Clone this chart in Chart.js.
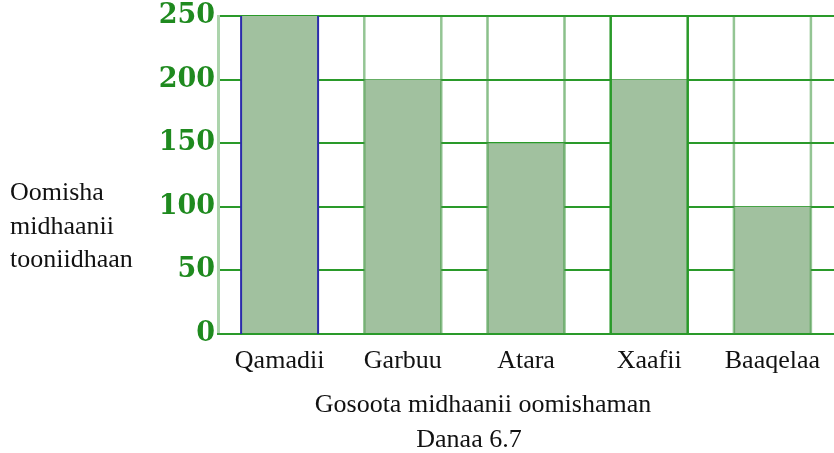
<!DOCTYPE html>
<html>
<head>
<meta charset="utf-8">
<script src="https://cdn.jsdelivr.net/npm/chart.js@4.4.1/dist/chart.umd.min.js"></script>
<style>
  html, body { margin: 0; padding: 0; background: #fff; }
  #wrap { width: 834px; height: 453px; position: relative; }
</style>
</head>
<body>
<div id="wrap"><canvas id="chart"></canvas></div>
<script>
const categories = ['Qamadii', 'Garbuu', 'Atara', 'Xaafii', 'Baaqelaa'];
const production = [250, 200, 150, 200, 100];
const yTicks = [0, 50, 100, 150, 200, 250];
const yTitle = ['Oomisha', 'midhaanii', 'tooniidhaan'];
const xTitle = 'Gosoota midhaanii oomishaman';
const caption = 'Danaa 6.7';

const green = '#2a9a2a';
const barFill = '#a1c19f';
// colour of the upright lines on each side of a bar
const edgeColors = ['#2b2bab', 'rgba(60,150,60,0.55)', 'rgba(60,150,60,0.6)', '#2a9a2a', 'rgba(60,150,60,0.55)'];

// full-height lines at both edges of every bar
const barEdges = {
    id: 'barEdges',
    afterDatasetsDraw(chart) {
        const ctx = chart.ctx;
        const area = chart.chartArea;
        const meta = chart.getDatasetMeta(0);
        ctx.save();
        meta.data.forEach((bar, i) => {
            const half = bar.width / 2;
            ctx.strokeStyle = edgeColors[i];
            ctx.lineWidth = i === 0 ? 2 : 2.5;
            [bar.x - half, bar.x + half].forEach(x => {
                ctx.beginPath();
                ctx.moveTo(x, area.top);
                ctx.lineTo(x, area.bottom);
                ctx.stroke();
            });
        });
        ctx.restore();
    }
};

// axis titles and caption
const titles = {
    id: 'titles',
    afterDraw(chart) {
        const ctx = chart.ctx;
        ctx.save();
        ctx.fillStyle = '#111';
        ctx.font = '26px "Liberation Serif", serif';
        ctx.textBaseline = 'alphabetic';
        ctx.textAlign = 'left';
        yTitle.forEach((line, i) => ctx.fillText(line, 10, 200 + i * 33.5));
        ctx.textAlign = 'center';
        ctx.fillText(xTitle, 483, 412);
        ctx.fillText(caption, 469, 447);
        ctx.restore();
    }
};

new Chart(document.getElementById('chart'), {
    type: 'bar',
    data: {
        labels: categories,
        datasets: [{
            data: production,
            backgroundColor: barFill,
            borderWidth: 0,
            barPercentage: 0.625,
            categoryPercentage: 1
        }]
    },
    options: {
        responsive: true,
        maintainAspectRatio: false,
        animation: false,
        layout: { padding: { top: 16, right: 0, bottom: 0, left: 0 } },
        plugins: {
            legend: { display: false },
            tooltip: { enabled: false }
        },
        scales: {
            x: {
                grid: { display: false, drawTicks: false },
                border: { display: true, color: green, width: 2 },
                ticks: {
                    color: '#111',
                    font: { family: '"Liberation Serif", serif', size: 26 },
                    padding: 12,
                    maxRotation: 0,
                    autoSkip: false
                },
                afterFit(scale) {
                    scale.height = 119;
                    scale.paddingLeft = 0;
                    scale.paddingRight = 0;
                }
            },
            y: {
                min: 0,
                max: 250,
                afterBuildTicks(scale) { scale.ticks = yTicks.map(v => ({ value: v })); },
                grid: { color: green, lineWidth: 2, drawTicks: false },
                border: { display: true, color: 'rgba(70,160,70,0.45)', width: 3 },
                ticks: {
                    color: '#1f8a1f',
                    font: { family: '"DejaVu Serif", serif', size: 27, weight: 'bold' },
                    padding: 3
                },
                afterFit(scale) {
                    scale.width = 218;
                    scale.paddingTop = 0;
                    scale.paddingBottom = 0;
                }
            }
        }
    },
    plugins: [barEdges, titles]
});
</script>
</body>
</html>
